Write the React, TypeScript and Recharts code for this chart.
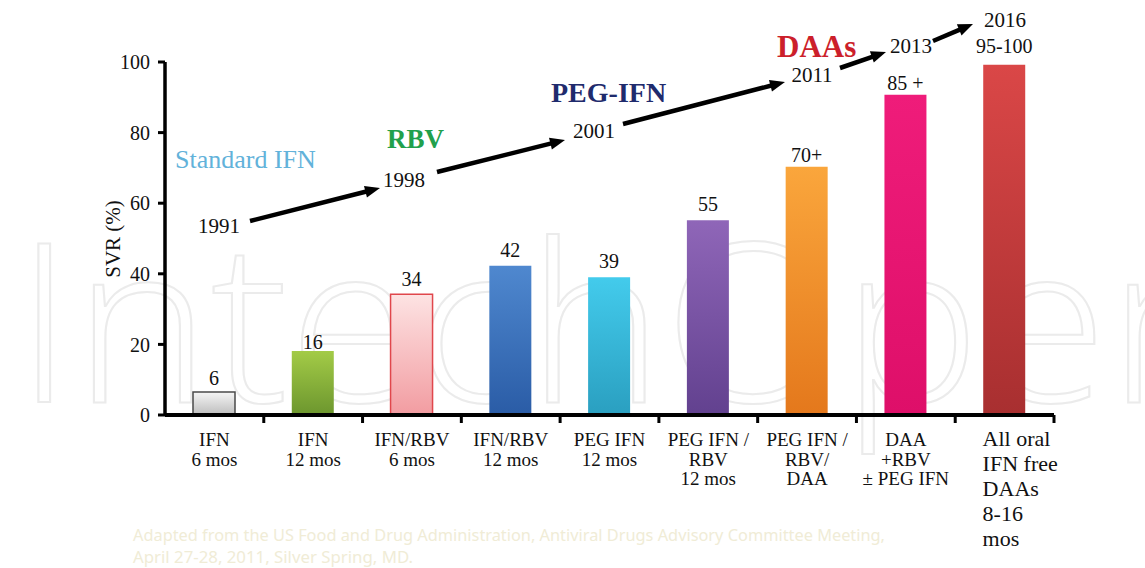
import React from 'react';
import { BarChart, Bar, XAxis, YAxis, Cell, LabelList } from 'recharts';

// categories (x axis), one line per "\n"
const categories = [
  'IFN\n6 mos',
  'IFN\n12 mos',
  'IFN/RBV\n6 mos',
  'IFN/RBV\n12 mos',
  'PEG IFN\n12 mos',
  'PEG IFN /\nRBV\n12 mos',
  'PEG IFN /\nRBV/\nDAA',
  'DAA\n+RBV\n± PEG IFN',
  'All oral\nIFN free\nDAAs\n8-16\nmos',
];
// bar heights as drawn (SVR %)
const svr = [6.5, 18.1, 34.2, 42.3, 39.0, 55.2, 70.3, 90.7, 99.2];
// the numbers printed over the bars
const valueLabels = ['6', '16', '34', '42', '39', '55', '70+', '85 +', '95-100'];
const yTicks = [0, 20, 40, 60, 80, 100];
const years = ['1991', '1998', '2001', '2011', '2013', '2016'];
const eras = ['Standard IFN', 'RBV', 'PEG-IFN', 'DAAs'];
const sourceNote = [
  'Adapted from the US Food and Drug Administration, Antiviral Drugs Advisory Committee Meeting,',
  'April 27-28, 2011, Silver Spring, MD.',
];

const data = categories.map((name, i) => ({ name, svr: svr[i], label: valueLabels[i] }));

const W = 1145;
const H = 568;
const PLOT = { left: 165, right: 1054, top: 62, bottom: 415 };
const BAND = (PLOT.right - PLOT.left) / categories.length;
const SERIF = '"Liberation Serif", "Times New Roman", serif';

const barGrad = [
  ['#f5f5f5', '#bdbdbd'],
  ['#a3cb47', '#6c962e'],
  ['#fde3e3', '#f29ca1'],
  ['#4f88cf', '#2a5ca6'],
  ['#43cbec', '#2a9fc0'],
  ['#8f66b8', '#62418f'],
  ['#faa63c', '#e4781c'],
  ['#ef1c7a', '#de0f69'],
  ['#da4747', '#a82f30'],
];
const barStroke = ['#4a4a4a', 'none', '#e0474c', 'none', 'none', 'none', 'none', 'none', 'none'];
// gap between bar top and its value label (pixels)
const labelGap = [7, 2, 8, 9, 9, 9, 5, 5, 12];

// timeline annotation layout (pixels)
const yearPos = [
  [219, 233],
  [404, 187],
  [594, 138],
  [812, 82],
  [911, 53],
  [1005, 27],
];
const arrows = [
  [250, 221, 380, 188],
  [437, 172, 565, 140],
  [623, 124, 785, 82],
  [840, 68, 886, 52],
  [933, 41, 973, 24],
];
const eraStyle = [
  { x: 175, y: 168, size: 26, color: '#62b2da', weight: 400 },
  { x: 387, y: 148, size: 27, color: '#21a04c', weight: 700 },
  { x: 551, y: 102, size: 28, color: '#1f2b6d', weight: 700 },
  { x: 777, y: 57, size: 31, color: '#cc1f2b', weight: 700 },
];

const CategoryTick = (props: any) => {
  const { x, y, payload } = props;
  const lines = String(payload.value).split('\n');
  const last = payload.value === categories[categories.length - 1];
  const tx = last ? x - 22 : x;
  return (
    <g>
      <line x1={x + BAND / 2} x2={x + BAND / 2} y1={y} y2={y + 8} stroke="#000" strokeWidth={3} />
      <text
        x={tx}
        y={y + 31}
        textAnchor={last ? 'start' : 'middle'}
        fontFamily={SERIF}
        fontSize={last ? 22 : 19}
        fill="#111"
      >
        {lines.map((l, i) => (
          <tspan key={i} x={tx} dy={i === 0 ? 0 : last ? 25 : 19.5}>
            {l}
          </tspan>
        ))}
      </text>
    </g>
  );
};

const ValueLabel = (props: any) => {
  const { x, y, width, value, index } = props;
  return (
    <text
      x={x + width / 2}
      y={y - labelGap[index]}
      textAnchor="middle"
      fontFamily={SERIF}
      fontSize={20}
      fill="#111"
    >
      {value}
    </text>
  );
};

const Arrow = ({ seg }: { seg: number[] }) => {
  const [x1, y1, x2, y2] = seg;
  const len = Math.hypot(x2 - x1, y2 - y1);
  const ux = (x2 - x1) / len;
  const uy = (y2 - y1) / len;
  const head = 15;
  const half = 6;
  const bx = x2 - ux * head;
  const by = y2 - uy * head;
  return (
    <g>
      <line x1={x1} y1={y1} x2={bx + ux * 2} y2={by + uy * 2} stroke="#000" strokeWidth={4.5} />
      <polygon
        points={`${x2},${y2} ${bx - uy * half},${by + ux * half} ${bx + uy * half},${by - ux * half}`}
        fill="#000"
      />
    </g>
  );
};

export default function App() {
  return (
    <div style={{ position: 'absolute', left: 0, top: 0, width: W, height: H, background: '#fff' }}>
      <svg width={W} height={H} style={{ position: 'absolute', left: 0, top: 0 }}>
        <text
          x={15}
          y={402}
          fontFamily="'Open Sans', sans-serif"
          fontWeight={300}
          fontSize={222}
          fill="none"
          stroke="#ebebeb"
          strokeWidth={2}
          textLength={1230}
          lengthAdjust="spacingAndGlyphs"
        >
          IntechOpen
        </text>
      </svg>
      <div style={{ position: 'absolute', left: 0, top: 0 }}>
        <BarChart
          width={W}
          height={H}
          data={data}
          margin={{ top: PLOT.top, right: W - PLOT.right, bottom: 0, left: 0 }}
        >
          <defs>
            {barGrad.map((g, i) => (
              <linearGradient key={i} id={`bar${i}`} x1="0" y1="0" x2="0" y2="1">
                <stop offset="0%" stopColor={g[0]} />
                <stop offset="100%" stopColor={g[1]} />
              </linearGradient>
            ))}
          </defs>
          <XAxis
            dataKey="name"
            height={H - PLOT.bottom}
            interval={0}
            tickLine={false}
            tickSize={0}
            tickMargin={0}
            axisLine={{ stroke: '#000', strokeWidth: 4 }}
            tick={<CategoryTick />}
          />
          <YAxis
            width={PLOT.left}
            domain={[0, 100]}
            ticks={yTicks}
            interval={0}
            tickSize={7}
            tickMargin={8}
            axisLine={{ stroke: '#000', strokeWidth: 3.5 }}
            tickLine={{ stroke: '#000', strokeWidth: 3 }}
            tick={{ fill: '#111', fontSize: 20, fontFamily: SERIF }}
          />
          <Bar dataKey="svr" barSize={42} isAnimationActive={false}>
            {data.map((_, i) => (
              <Cell key={i} fill={`url(#bar${i})`} stroke={barStroke[i]} strokeWidth={1.5} />
            ))}
            <LabelList dataKey="label" content={<ValueLabel />} />
          </Bar>
        </BarChart>
      </div>
      <svg width={W} height={H} style={{ position: 'absolute', left: 0, top: 0, pointerEvents: 'none' }}>
        <text
          x={0}
          y={0}
          transform="translate(120,239) rotate(-90)"
          textAnchor="middle"
          fontFamily={SERIF}
          fontSize={21}
          fill="#111"
        >
          SVR (%)
        </text>
        {arrows.map((s, i) => (
          <Arrow key={i} seg={s} />
        ))}
        {years.map((yr, i) => (
          <text
            key={yr}
            x={yearPos[i][0]}
            y={yearPos[i][1]}
            textAnchor="middle"
            fontFamily={SERIF}
            fontSize={21}
            fill="#111"
          >
            {yr}
          </text>
        ))}
        {eras.map((e, i) => (
          <text
            key={e}
            x={eraStyle[i].x}
            y={eraStyle[i].y}
            fontFamily={SERIF}
            fontSize={eraStyle[i].size}
            fontWeight={eraStyle[i].weight}
            fill={eraStyle[i].color}
          >
            {e}
          </text>
        ))}
        <text
          x={133}
          y={541}
          fontFamily="'Noto Sans', sans-serif"
          fontSize={16}
          fill="#f0ecd6"
          textLength={752}
          lengthAdjust="spacingAndGlyphs"
        >
          {sourceNote[0]}
        </text>
        <text
          x={133}
          y={563}
          fontFamily="'Noto Sans', sans-serif"
          fontSize={16}
          fill="#f0ecd6"
          textLength={280}
          lengthAdjust="spacingAndGlyphs"
        >
          {sourceNote[1]}
        </text>
      </svg>
    </div>
  );
}
